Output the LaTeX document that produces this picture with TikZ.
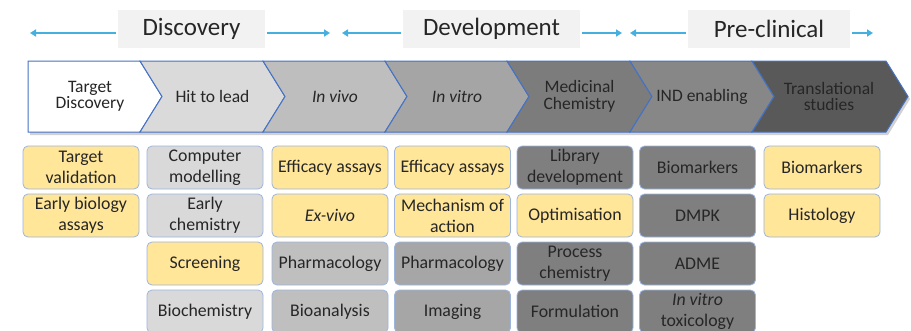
\documentclass[tikz,border=0pt]{standalone}
\usepackage{fontspec}
\setmainfont{Carlito}
\usetikzlibrary{arrows.meta}
\definecolor{txt}{HTML}{262626}
\definecolor{yel}{HTML}{FFE699}
\definecolor{gA}{HTML}{D9D9D9}
\definecolor{gB}{HTML}{BFBFBF}
\definecolor{gC}{HTML}{A6A6A6}
\definecolor{gD}{HTML}{7F7F7F}
\definecolor{cA}{HTML}{DADADA}
\definecolor{cB}{HTML}{BEBEBE}
\definecolor{cC}{HTML}{A5A5A5}
\definecolor{cD}{HTML}{7C7C7C}
\definecolor{cE}{HTML}{878787}
\definecolor{cF}{HTML}{595959}
\definecolor{chevline}{HTML}{4472C4}
\definecolor{boxline}{HTML}{9DB5DE}
\definecolor{arrc}{HTML}{45B0E0}
\definecolor{hdr}{HTML}{F2F2F2}
\begin{document}
\begin{tikzpicture}[x=1pt,y=-1pt,
  chev/.style={draw=chevline, line width=1pt, line join=miter},
  ctext/.style={text=txt, align=center, font=\fontsize{17.5}{16.5}\selectfont, inner sep=0pt},
  cellbox/.style={draw=boxline, line width=0.8pt, rounded corners=5pt, minimum width=116pt, minimum height=43pt, inner sep=0pt, align=center, text=txt, font=\fontsize{17.8}{21}\selectfont},
  hbox/.style={fill=hdr, minimum height=38pt, inner sep=0pt, text=txt, font=\fontsize{25}{28}\selectfont},
  arr/.style={draw=arrc, line width=1.8pt, -{Triangle[length=6pt,width=7pt]}, shorten <=2pt}
]
\useasboundingbox (0,0) rectangle (911,330);
\fill[white] (0,0) rectangle (911,330);

% header
\node[hbox, minimum width=147pt] (hdisc) at (191.5,29) {Discovery};
\node[hbox, minimum width=177pt] (hdev) at (491.5,29) {Development};
\node[hbox, minimum width=162pt] (hpre) at (769,29) {Pre-clinical};
\coordinate (a1) at (30,33);
\coordinate (a2) at (330,33);
\coordinate (a3) at (342,33);
\coordinate (a4) at (622,33);
\coordinate (a5) at (630,33);
\coordinate (a6) at (873,33);
\draw[arr] (hdisc.west |- a1) -- (a1);
\draw[arr] (hdisc.east |- a2) -- (a2);
\draw[arr] (hdev.west |- a3) -- (a3);
\draw[arr] (hdev.east |- a4) -- (a4);
\draw[arr] (hpre.west |- a5) -- (a5);
\draw[arr] (hpre.east |- a6) -- (a6);

% shadow of chevron row
\fill[black, opacity=0.18] (30,64) -- (888,64) -- (910,99) -- (888,135) -- (30,135) -- cycle;

% chevrons
\draw[chev, fill=white] (28,61) -- (140,61) -- (162,96.5) -- (140,132) -- (28,132) -- cycle;
\draw[chev, fill=cA] (140,61) -- (263,61) -- (285,96.5) -- (263,132) -- (140,132) -- (162,96.5) -- cycle;
\draw[chev, fill=cB] (263,61) -- (385,61) -- (407,96.5) -- (385,132) -- (263,132) -- (285,96.5) -- cycle;
\draw[chev, fill=cC] (385,61) -- (507,61) -- (529,96.5) -- (507,132) -- (385,132) -- (407,96.5) -- cycle;
\draw[chev, fill=cD] (507,61) -- (630,61) -- (652,96.5) -- (630,132) -- (507,132) -- (529,96.5) -- cycle;
\draw[chev, fill=cE] (630,61) -- (752,61) -- (774,96.5) -- (752,132) -- (630,132) -- (652,96.5) -- cycle;
\draw[chev, fill=cF] (752,61) -- (886,61) -- (908,96.5) -- (886,132) -- (752,132) -- (774,96.5) -- cycle;

\node[ctext] (t1) at (90,96.5) {Target\\Discovery};
\node[ctext] (t2) at (212.5,96.5) {Hit to lead};
\node[ctext] (t3) at (335,96.5) {\itshape In vivo};
\node[ctext] (t4) at (457,96.5) {\itshape In vitro};
\node[ctext] (t5) at (579.5,96.5) {Medicinal\\Chemistry};
\node[ctext] (t6) at (702,96.5) {IND enabling};
\node[ctext] (t7) at (829,96.5) {Translational\\studies};

% column 1
\node[cellbox, fill=yel] (b11) at (81,167.5) {Target\\validation};
\node[cellbox, fill=yel] (b12) at (81,215.5) {Early biology\\assays};
% column 2
\node[cellbox, fill=gA] (b21) at (205,167.5) {Computer\\modelling};
\node[cellbox, fill=gA] (b22) at (205,215.5) {Early\\chemistry};
\node[cellbox, fill=yel] (b23) at (205,263.5) {Screening};
\node[cellbox, fill=gA] (b24) at (205,311.5) {Biochemistry};
% column 3
\node[cellbox, fill=yel] (b31) at (330,167.5) {Efficacy assays};
\node[cellbox, fill=yel] (b32) at (330,215.5) {\itshape Ex-vivo};
\node[cellbox, fill=gB] (b33) at (330,263.5) {Pharmacology};
\node[cellbox, fill=gB] (b34) at (330,311.5) {Bioanalysis};
% column 4
\node[cellbox, fill=yel] (b41) at (452.5,167.5) {Efficacy assays};
\node[cellbox, fill=yel] (b42) at (452.5,215.5) {Mechanism of\\action};
\node[cellbox, fill=gC] (b43) at (452.5,263.5) {Pharmacology};
\node[cellbox, fill=gC] (b44) at (452.5,311.5) {Imaging};
% column 5
\node[cellbox, fill=gD] (b51) at (575,167.5) {Library\\development};
\node[cellbox, fill=yel] (b52) at (575,215.5) {Optimisation};
\node[cellbox, fill=gD] (b53) at (575,263.5) {Process\\chemistry};
\node[cellbox, fill=gD] (b54) at (575,311.5) {Formulation};
% column 6
\node[cellbox, fill=gD] (b61) at (697.5,167.5) {Biomarkers};
\node[cellbox, fill=gD] (b62) at (697.5,215.5) {DMPK};
\node[cellbox, fill=gD] (b63) at (697.5,263.5) {ADME};
\node[cellbox, fill=gD] (b64) at (697.5,311.5) {{\itshape In vitro}\\toxicology};
% column 7
\node[cellbox, fill=yel] (b71) at (822,167.5) {Biomarkers};
\node[cellbox, fill=yel] (b72) at (822,215.5) {Histology};
\end{tikzpicture}
\end{document}
